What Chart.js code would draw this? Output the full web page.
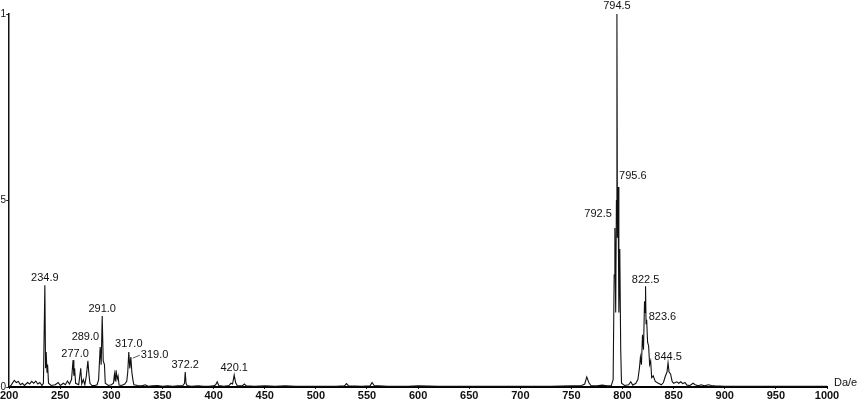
<!DOCTYPE html>
<html>
<head>
<meta charset="utf-8">
<script src="https://cdn.jsdelivr.net/npm/chart.js@4/dist/chart.umd.min.js"></script>
<style>
html,body{margin:0;padding:0;background:#fff;}
#wrap{width:863px;height:400px;position:relative;}
</style>
</head>
<body>
<div id="wrap"><canvas id="c" width="863" height="400"></canvas></div>
<script>
// m/z values (Da/e) of the traced spectrum profile
const mz = [200,202,205,207,209,211,213,215,218,220,222,224,226,228,230,232,
233.5,234.9,235.6,236.2,237,237.6,238.5,241,245,248,250,253,255,257,259,261,262.5,263.3,264,265,268,270,271,272.5,274,275.5,277,278,279,281,284,286,287.5,
289,290,291,292,293.2,294,297,300,302,303,303.8,304.6,305.5,306.5,307.5,310,313,315,316,317,318,319,320,321,322,326,330,333,336,340,345,350,355,360,365,370,
371.5,372.2,373,374,378,385,390,395,400,402,403.5,405,410,415,417,418.5,420.1,421.5,423,428,430,432,440,450,460,470,480,500,520,528,530,532,545,553,555,557,570,590,600,620,650,700,730,750,760,763,765,767,769,775,780,785,789,
790.8,791.8,792.5,793.3,794,794.5,795,795.6,796.4,797.3,798.2,799,802,806,808,810,813,815,816.5,817.5,818.5,819.5,820.5,821.5,822,822.5,823,823.6,824.5,825.5,826.5,827.5,828.5,830,832,835,838,840,842,843.5,844.5,845.5,847,848.5,850,853,855,857,859,861,863,866,869,871,874,877,880,884,887,890,900,920,950,1000];
// relative intensity at each m/z above
const intensity = [0,0.005,0.018,0.012,0.015,0.006,0.01,0.004,0.012,0.008,0.015,0.01,0.016,0.008,0.012,0.004,
0.01,0.273,0.05,0.094,0.04,0.06,0.01,0.004,0.006,0.012,0.004,0.01,0.006,0.016,0.008,0.02,0.072,0.03,0.05,0.01,0.006,0.05,0.008,0.02,0.006,0.03,0.07,0.035,0.01,0.004,0.004,0.006,0.02,
0.107,0.06,0.19,0.07,0.06,0.01,0.004,0.006,0.01,0.035,0.015,0.045,0.02,0.03,0.005,0.004,0.008,0.015,0.04,0.094,0.05,0.08,0.04,0.02,0.006,0.004,0.003,0.006,0.002,0.003,0.004,0.002,0.003,0.002,0.003,0.004,
0.01,0.04,0.01,0.004,0.002,0.003,0.002,0.002,0.003,0.006,0.014,0.004,0.002,0.004,0.01,0.008,0.032,0.012,0.004,0.003,0.008,0.003,0.002,0.003,0.002,0.003,0.002,0.002,0.002,0.003,0.009,0.003,0.002,0.003,0.012,0.004,0.002,0.002,0.003,0.002,0.002,0.002,0.002,0.003,0.004,0.008,0.027,0.012,0.004,0.003,0.005,0.003,0.004,
0.02,0.3,0.426,0.2,0.5,1.0,0.4,0.536,0.2,0.37,0.1,0.01,0.004,0.006,0.014,0.005,0.01,0.02,0.05,0.08,0.06,0.14,0.1,0.23,0.2,0.27,0.17,0.18,0.12,0.11,0.06,0.07,0.025,0.03,0.015,0.01,0.006,0.012,0.03,0.04,0.065,0.04,0.035,0.015,0.01,0.014,0.01,0.014,0.009,0.012,0.005,0.004,0.01,0.006,0.003,0.006,0.003,0.006,0.004,0.003,0.002,0.002,0.002,0.002];
// labelled peaks
const peakMz = [234.9,277.0,289.0,291.0,317.0,319.0,372.2,420.1,792.5,794.5,795.6,822.5,823.6,844.5];
const peakHeight = [0.273,0.06,0.107,0.19,0.094,0.08,0.04,0.032,0.426,1.0,0.536,0.27,0.18,0.065];
const xTickLabels = ['200','250','300','350','400','450','500','550','600','650','700','750','800','850','900','950','1000'];
const yTickLabels = {0:'0',0.5:'5',1:'1'};
const xUnit = 'Da/e';

// label placement style (offsets in px from peak top)
const labelStyle = {
  '234.9':{a:'center',dx:0,dy:-7},
  '277.0':{a:'right',dx:1,dy:-11},
  '289.0':{a:'right',dx:-1,dy:-10},
  '291.0':{a:'center',dx:0,dy:-7},
  '317.0':{a:'center',dx:0,dy:-8},
  '319.0':{a:'left',dx:10,dy:-2,leader:true},
  '372.2':{a:'center',dx:0,dy:-7},
  '420.1':{a:'center',dx:0,dy:-7},
  '792.5':{a:'right',dx:-3,dy:-14},
  '794.5':{a:'center',dx:0,dy:-8},
  '795.6':{a:'left',dx:1,dy:-11},
  '822.5':{a:'center',dx:0,dy:-6},
  '823.6':{a:'left',dx:2,dy:-3},
  '844.5':{a:'center',dx:0,dy:-6}
};

const labelPlugin = {
  id:'peakLabels',
  afterDatasetsDraw(chart){
    const ctx = chart.ctx, xs = chart.scales.x, ys = chart.scales.y;
    ctx.save();
    ctx.font = '11px "Liberation Sans", Arial, sans-serif';
    ctx.fillStyle = '#111';
    ctx.strokeStyle = '#333';
    ctx.lineWidth = 0.8;
    ctx.textBaseline = 'middle';
    peakMz.forEach((m,i)=>{
      const t = m.toFixed(1);
      const st = labelStyle[t] || {a:'center',dx:0,dy:-7};
      const px = xs.getPixelForValue(m), py = ys.getPixelForValue(peakHeight[i]);
      ctx.textAlign = st.a;
      ctx.fillText(t, px+st.dx, py+st.dy);
      if(st.leader){
        ctx.beginPath();
        ctx.moveTo(px+2, py+1);
        ctx.lineTo(px+st.dx-1, py+st.dy);
        ctx.stroke();
      }
    });
    ctx.textAlign='left';
    ctx.fillText(xUnit, xs.right+7, ys.bottom-4);
    ctx.restore();
  }
};

new Chart(document.getElementById('c'), {
  type:'line',
  data:{
    datasets:[{
      data: mz.map((v,i)=>({x:v,y:intensity[i]})),
      borderColor:'#111',
      borderWidth:1.1,
      pointRadius:0,
      tension:0,
      fill:false
    }]
  },
  options:{
    responsive:false,
    animation:false,
    layout:{padding:{left:0,right:36,top:14,bottom:0}},
    plugins:{legend:{display:false},tooltip:{enabled:false}},
    scales:{
      x:{
        type:'linear',min:200,max:1000,
        afterFit(s){s.height=13;},
        grid:{display:true,drawOnChartArea:false,drawTicks:true,tickLength:2,color:'#222',lineWidth:1},
        border:{display:true,color:'#000',width:2},
        ticks:{
          stepSize:50,autoSkip:false,maxRotation:0,padding:0,
          color:'#111',
          font:{family:'"Liberation Sans", Arial, sans-serif',size:11,weight:'bold'},
          callback:(v)=>{const k=Math.round((v-200)/50);return xTickLabels[k]!==undefined && (v-200)%50===0 ? xTickLabels[k] : '';}
        }
      },
      y:{
        type:'linear',min:0,max:1,
        afterFit(s){s.width=9;},
        grid:{display:true,drawOnChartArea:false,drawTicks:true,tickLength:3,color:'#222'},
        border:{display:true,color:'#111',width:1.5},
        ticks:{
          stepSize:0.5,padding:0,color:'#111',
          font:{family:'"Liberation Sans", Arial, sans-serif',size:10},
          callback:(v)=> yTickLabels[v]!==undefined ? yTickLabels[v] : ''
        }
      }
    }
  },
  plugins:[labelPlugin]
});
</script>
</body>
</html>
